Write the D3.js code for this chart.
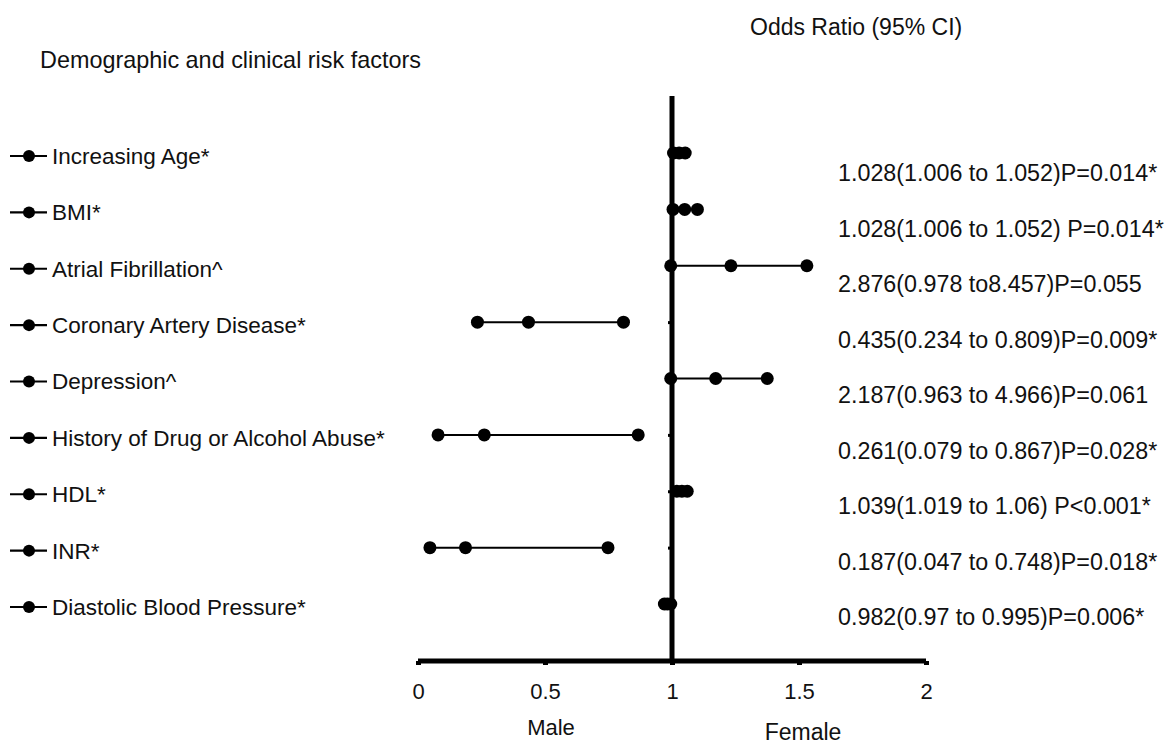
<!DOCTYPE html>
<html>
<head>
<meta charset="utf-8">
<script src="https://cdn.jsdelivr.net/npm/d3@7"></script>
<style>
  html, body { margin: 0; padding: 0; background: #fff; }
  svg text { font-family: "Liberation Sans", Arial, sans-serif; fill: #111; }
</style>
</head>
<body>
<svg id="chart" width="1169" height="744"></svg>
<script>
// Risk factors, top to bottom
const factors = [
  "Increasing Age*",
  "BMI*",
  "Atrial Fibrillation^",
  "Coronary Artery Disease*",
  "Depression^",
  "History of Drug or Alcohol Abuse*",
  "HDL*",
  "INR*",
  "Diastolic Blood Pressure*"
];

// Plotted odds ratio and interval bounds
const orValue = [1.028, 1.05, 1.232, 0.435, 1.172, 0.261, 1.039, 0.187, 0.982];
const ciLower = [1.006, 1.004, 0.995, 0.234, 0.995, 0.079, 1.019, 0.047, 0.970];
const ciUpper = [1.052, 1.10, 1.531, 0.809, 1.375, 0.867, 1.060, 0.748, 0.995];

// Reported estimates
const orText = [
  "1.028(1.006 to 1.052)P=0.014*",
  "1.028(1.006 to 1.052) P=0.014*",
  "2.876(0.978 to8.457)P=0.055",
  "0.435(0.234 to 0.809)P=0.009*",
  "2.187(0.963 to 4.966)P=0.061",
  "0.261(0.079 to 0.867)P=0.028*",
  "1.039(1.019 to 1.06) P<0.001*",
  "0.187(0.047 to 0.748)P=0.018*",
  "0.982(0.97 to 0.995)P=0.006*"
];

const xTicks = [0, 0.5, 1, 1.5, 2];

const svg = d3.select("#chart");

const x = d3.scaleLinear().domain([0, 2]).range([418, 926]);
const y = d3.scalePoint().domain(d3.range(factors.length)).range([153, 604]);
const yText = d3.scalePoint().domain(d3.range(factors.length)).range([173, 617]);

// Headings
svg.append("text").attr("x", 40).attr("y", 68)
  .style("font-size", "23.4px").text("Demographic and clinical risk factors");
svg.append("text").attr("x", 750).attr("y", 35)
  .style("font-size", "23px").text("Odds Ratio (95% CI)");

// Horizontal axis
const xAxis = d3.axisBottom(x).tickValues(xTicks).tickSize(4).tickPadding(18)
  .tickFormat(d3.format("~g"));
const gx = svg.append("g").attr("transform", "translate(0,661)").call(xAxis);
gx.select(".domain").attr("stroke", "#000").attr("stroke-width", 5)
  .attr("d", `M${x(0)},0H${x(2)}`);
gx.selectAll(".tick line").attr("stroke", "#000").attr("stroke-width", 5);
gx.selectAll(".tick text").style("font-size", "22px").attr("fill", "#111")
  .style("font-family", "'Liberation Sans', Arial, sans-serif");

// Vertical reference line at OR = 1
const yAxis = d3.axisLeft(y).tickSize(4).tickFormat("");
const gy = svg.append("g").attr("transform", `translate(${x(1)},0)`).call(yAxis);
gy.select(".domain").attr("stroke", "#000").attr("stroke-width", 5)
  .attr("d", "M0,96V661");
gy.selectAll(".tick line").attr("stroke", "#000").attr("stroke-width", 3);

// Side labels
svg.append("text").attr("x", x(0.5) + 6).attr("y", 735).attr("text-anchor", "middle")
  .style("font-size", "22px").text("Male");
svg.append("text").attr("x", x(1.5) + 4).attr("y", 740).attr("text-anchor", "middle")
  .style("font-size", "23px").text("Female");

// Row key markers and factor names
const rows = svg.append("g").selectAll("g").data(factors).join("g")
  .attr("transform", (d, i) => `translate(0,${y(i) + 3})`);
rows.append("line").attr("x1", 10).attr("x2", 47).attr("y1", 0).attr("y2", 0)
  .attr("stroke", "#000").attr("stroke-width", 2.2);
rows.append("circle").attr("cx", 29).attr("cy", 0).attr("r", 6).attr("fill", "#000");
rows.append("text").attr("x", 52).attr("y", 0).attr("dy", "0.35em")
  .style("font-size", "22.5px").text(d => d);

// Confidence intervals
const ci = svg.append("g").selectAll("g").data(factors).join("g")
  .attr("transform", (d, i) => `translate(0,${y(i)})`);
ci.append("line")
  .attr("x1", (d, i) => x(ciLower[i])).attr("x2", (d, i) => x(ciUpper[i]))
  .attr("stroke", "#000").attr("stroke-width", 2);
ci.selectAll("circle")
  .data((d, i) => [ciLower[i], orValue[i], ciUpper[i]])
  .join("circle")
  .attr("cx", v => x(v)).attr("cy", 0).attr("r", 6.5).attr("fill", "#000");

// Estimate text
svg.append("g").selectAll("text").data(orText).join("text")
  .attr("x", 838).attr("y", (d, i) => yText(i)).attr("dy", "0.35em")
  .style("font-size", "23.3px").text(d => d);
</script>
</body>
</html>
